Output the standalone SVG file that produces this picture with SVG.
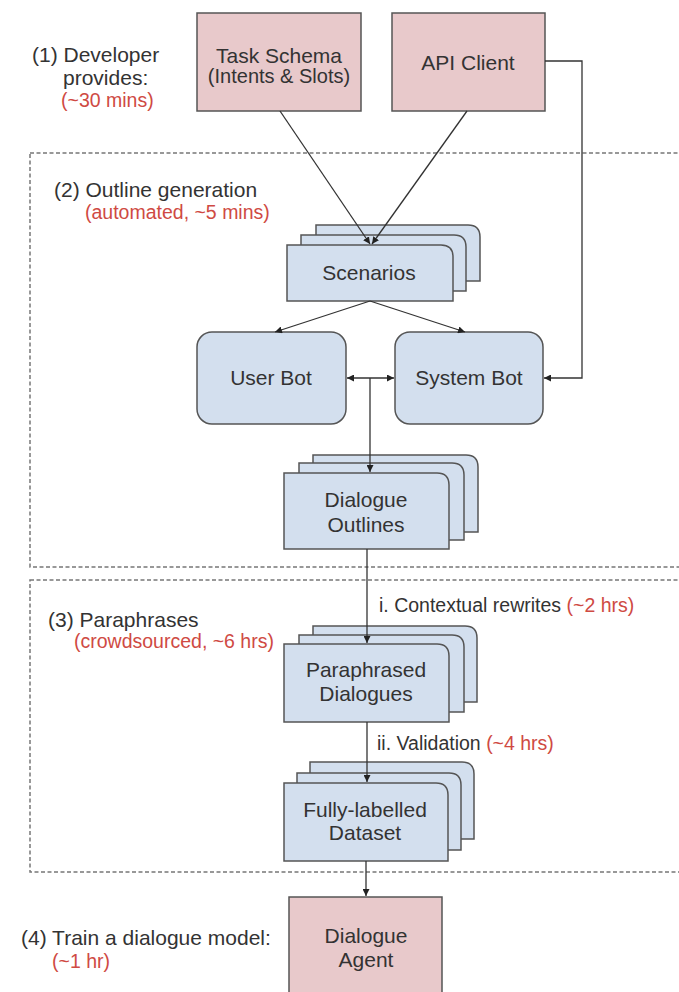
<svg xmlns="http://www.w3.org/2000/svg" width="679" height="992" viewBox="0 0 679 992">
<defs>
<style>
text{font-family:"Liberation Sans",Arial,sans-serif;font-size:21px;fill:#333}
.red{fill:#cf4a43;font-size:19.5px}
.lbl{font-size:19.5px}
.mid{text-anchor:middle}
.pink{fill:#e8c9cb;stroke:#555;stroke-width:1.5}
.blue{fill:#d3dfee;stroke:#555;stroke-width:1.5}
.dash{fill:none;stroke:#777;stroke-width:1.5;stroke-dasharray:4 2.5}
.conn path{fill:none;stroke:#333;stroke-width:1.3}
</style>
<marker id="ah" viewBox="0 0 10 10" refX="10" refY="5" markerWidth="7" markerHeight="7" markerUnits="userSpaceOnUse" orient="auto-start-reverse">
<path d="M0,0 L10,5 L0,10 z" fill="#222"/>
</marker>
</defs>
<rect width="679" height="992" fill="#fff"/>

<!-- stage frames -->
<rect class="dash" x="30" y="153" width="700" height="414"/>
<rect class="dash" x="30" y="580" width="700" height="292"/>

<!-- stage labels -->
<g id="stage1">
<text x="32" y="62">(1) Developer</text>
<text x="63" y="85">provides:</text>
<text class="red" x="61" y="107">(~30 mins)</text>
</g>
<g id="stage2">
<text x="54" y="197">(2) Outline generation</text>
<text class="red" x="85" y="219">(automated, ~5 mins)</text>
</g>
<g id="stage3">
<text x="48" y="627">(3) Paraphrases</text>
<text class="red" x="74" y="648">(crowdsourced, ~6 hrs)</text>
</g>
<g id="stage4">
<text x="21" y="945">(4) Train a dialogue model:</text>
<text class="red" x="52" y="968">(~1 hr)</text>
</g>

<!-- nodes -->
<g id="task-schema">
<rect class="pink" x="197" y="13" width="164" height="98"/>
<text class="mid" x="279" y="63">Task Schema</text>
<text class="mid" x="279" y="83" style="font-size:20px">(Intents &amp; Slots)</text>
</g>
<g id="api-client">
<rect class="pink" x="392" y="13" width="153" height="98"/>
<text class="mid" x="468" y="70">API Client</text>
</g>

<g id="scenarios">
<path class="blue" d="M316,281 V225 H468 Q480,225 480,237 V281 Z"/>
<path class="blue" d="M301,291 V235 H454 Q466,235 466,247 V291 Z"/>
<path class="blue" d="M287,301 V245 H441 Q453,245 453,257 V301 Z"/>
<text class="mid" x="369" y="280">Scenarios</text>
</g>

<g id="user-bot">
<rect class="blue" x="197" y="332" width="149" height="92" rx="15" ry="15"/>
<text class="mid" x="271" y="385">User Bot</text>
</g>
<g id="system-bot">
<rect class="blue" x="395" y="332" width="148" height="92" rx="15" ry="15"/>
<text class="mid" x="469" y="385">System Bot</text>
</g>

<g id="dialogue-outlines">
<path class="blue" d="M313,532 V455 H466 Q478,455 478,467 V532 Z"/>
<path class="blue" d="M299,540 V463 H452 Q464,463 464,475 V540 Z"/>
<path class="blue" d="M284,549 V473 H437 Q449,473 449,485 V549 Z"/>
<text class="mid" x="366" y="507">Dialogue</text>
<text class="mid" x="366" y="532">Outlines</text>
</g>

<g id="paraphrased-dialogues">
<path class="blue" d="M313,702 V626 H465 Q477,626 477,638 V702 Z"/>
<path class="blue" d="M299,712 V635 H452 Q464,635 464,647 V712 Z"/>
<path class="blue" d="M284,722 V644 H437 Q449,644 449,656 V722 Z"/>
<text class="mid" x="366" y="677">Paraphrased</text>
<text class="mid" x="366" y="701">Dialogues</text>
</g>

<g id="fully-labelled-dataset">
<path class="blue" d="M310,839 V762 H462 Q474,762 474,774 V839 Z"/>
<path class="blue" d="M297,850 V773 H449 Q461,773 461,785 V850 Z"/>
<path class="blue" d="M284,861 V783 H436 Q448,783 448,795 V861 Z"/>
<text class="mid" x="365" y="817">Fully-labelled</text>
<text class="mid" x="365" y="840">Dataset</text>
</g>

<g id="dialogue-agent">
<rect class="pink" x="289" y="897" width="153" height="110"/>
<text class="mid" x="366" y="943">Dialogue</text>
<text class="mid" x="366" y="967">Agent</text>
</g>

<!-- connectors -->
<g class="conn" id="connectors">
<path d="M280,111 L370,244" marker-end="url(#ah)"/>
<path d="M467,111 L372,244" marker-end="url(#ah)"/>
<path d="M545,61 H582 V378 H544" marker-end="url(#ah)"/>
<path d="M370,301 L275,332" marker-end="url(#ah)"/>
<path d="M370,301 L465,332" marker-end="url(#ah)"/>
<path d="M347,378 H394" marker-start="url(#ah)" marker-end="url(#ah)"/>
<path d="M370,378 V472" marker-end="url(#ah)"/>
<path d="M367,549 V643" marker-end="url(#ah)"/>
<path d="M367,722 V782" marker-end="url(#ah)"/>
<path d="M366,861 V896" marker-end="url(#ah)"/>
</g>

<!-- connector labels -->
<g id="label-rewrites">
<text class="lbl" x="379" y="612">i. Contextual rewrites <tspan class="red">(~2 hrs)</tspan></text>
</g>
<g id="label-validation">
<text class="lbl" x="377" y="750">ii. Validation <tspan class="red">(~4 hrs)</tspan></text>
</g>
</svg>
